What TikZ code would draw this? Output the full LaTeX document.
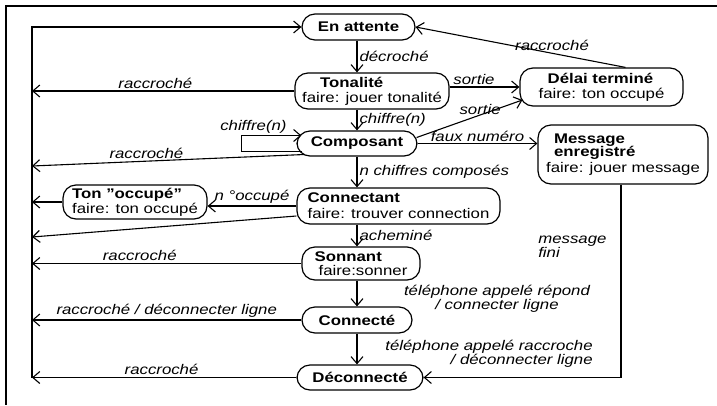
\documentclass[tikz,border=0pt]{standalone}
\usepackage{fontspec}
\setmainfont{Liberation Sans}[FakeStretch=1.2]
\usetikzlibrary{arrows.meta}

\tikzset{
  etat/.style={draw, line width=1.2pt, rounded corners=13pt, inner sep=0pt, align=left,
    font=\fontsize{14}{14}\selectfont},
  lab/.style={font=\fontsize{14}{13}\selectfont\itshape, inner sep=2pt},
  fl/.style={line width=1.1pt, -{Straight Barb[length=7pt,width=12pt]}},
}

\begin{document}
\begin{tikzpicture}[x=1pt,y=-1pt]
\useasboundingbox (0,0) rectangle (717,405);
% cadre
\draw[line width=1.4pt] (717,6) -- (6,6) -- (6,405);

% les etats
\node[etat, minimum width=113pt, minimum height=26pt] (attente) at (358.5,27) {\textbf{En attente}};
\node[etat, minimum width=154pt, minimum height=36pt] (tonalite) at (372,91)
  {\textbf{\hspace*{18pt}Tonalité}\\[1pt]faire: jouer tonalité};
\node[etat, minimum width=163pt, minimum height=38pt] (delai) at (601.5,87)
  {\textbf{\hspace*{9pt}Délai terminé}\\[1pt]faire: ton occupé};
\node[etat, minimum width=120pt, minimum height=25pt] (composant) at (357,143.5) {\textbf{Composant}};
\node[etat, minimum width=170pt, minimum height=59pt] (message) at (623,154.5)
  {\textbf{\hspace*{8pt}Message}\\[-1pt]\textbf{\hspace*{8pt}enregistré}\\[2pt]faire: jouer message};
\node[etat, minimum width=203pt, minimum height=36pt] (connectant) at (398.5,206)
  {\textbf{Connectant}\\[2pt]faire: trouver connection};
\node[etat, minimum width=144pt, minimum height=34pt] (occupe) at (135,202)
  {\textbf{Ton \symbol{34}occupé\symbol{34}}\\[1pt]faire: ton occupé};
\node[etat, minimum width=118pt, minimum height=33pt] (sonnant) at (361,263.5)
  {\textbf{Sonnant}\\[0pt]\hspace*{4pt}faire:sonner};
\node[etat, minimum width=110pt, minimum height=26pt] (connecte) at (357,320) {\textbf{Connecté}};
\node[etat, minimum width=126pt, minimum height=25pt] (deconnecte) at (360,377.5) {\textbf{Déconnecté}};

% colonne centrale, ligne de retour a gauche
\coordinate (col) at (357,0);
\coordinate (bushaut) at (32,27);
\coordinate (busbas) at (32,377.5);
\coordinate (b1) at (32,166);
\coordinate (b2) at (32,237);
\coordinate (coin) at (621,377.5);

% transitions principales
\draw[fl] (attente.south -| col) -- node[lab,right]{décroché} (tonalite.north -| col);
\draw[fl] (tonalite.south -| col) -- node[lab,right]{chiffre(n)} (composant.north -| col);
\draw[fl] (composant.south -| col) -- node[lab,right]{n chiffres composés} (connectant.north -| col);
\draw[fl] (connectant.south -| col) -- node[lab,right]{acheminé} (sonnant.north -| col);
\draw[fl] (sonnant.south -| col) -- (connecte.north -| col);
\node[lab, align=center] (repond) at (497,298.5) {téléphone appelé répond\\/ connecter ligne};
\draw[fl] (connecte.south -| col) -- (deconnecte.north -| col);
\node[lab, align=right] (raccroche) at (489,354) {téléphone appelé raccroche\\/ déconnecter ligne};

% chiffre(n) sur soi-meme
\draw[fl] ([xshift=6pt,yshift=-8pt]composant.west) -- ++(-61,0)
  |- node[lab,above,pos=0.6]{chiffre(n)} ([xshift=5pt,yshift=8pt]composant.west);

% vers la droite
\draw[fl] (delai.west -| tonalite.east) -- node[lab,above,pos=0.35]{sortie} (delai.west);
\draw[fl] ([xshift=-1pt,yshift=6pt]composant.east) -- node[lab,above,pos=0.6,inner sep=0pt]{sortie}
  ([xshift=3pt,yshift=-13pt]delai.west);
\draw[fl] ([xshift=24pt]delai.north) -- node[lab,above,pos=0.35]{raccroché} (attente.east);
\draw[fl] (composant.east) -- node[lab,above,inner sep=1pt]{faux numéro} (composant.east -| message.west);
\draw[fl] (message.south -| coin) -- node[lab,left=12pt,align=left,pos=0.32]{message\\fini} (coin)
  -- (deconnecte.east);

% raccroche : retour a gauche
\draw[fl] (tonalite.west) -- node[lab,above,pos=0.53]{raccroché} (tonalite.west -| bushaut);
\draw[fl] ([xshift=8pt,yshift=-11pt]composant.west) -- node[lab,above,pos=0.58]{raccroché} (b1);
\draw[fl] (connectant.west) -- node[lab,above]{n °occupé} (connectant.west -| occupe.east);
\draw[fl] (occupe.west) -- (occupe.west -| bushaut);
\draw[fl] ([yshift=-10pt]connectant.west) -- (b2);
\draw[fl] (sonnant.west) -- node[lab,above,pos=0.6]{raccroché} (sonnant.west -| bushaut);
\draw[fl] (connecte.west) -- node[lab,above,pos=0.5]{raccroché / déconnecter ligne} (connecte.west -| bushaut);
\draw[fl] (deconnecte.west) -- node[lab,above,pos=0.51]{raccroché} (deconnecte.west -| bushaut);
\draw[fl] (busbas) -- (bushaut) -- (attente.west);
\end{tikzpicture}
\end{document}
